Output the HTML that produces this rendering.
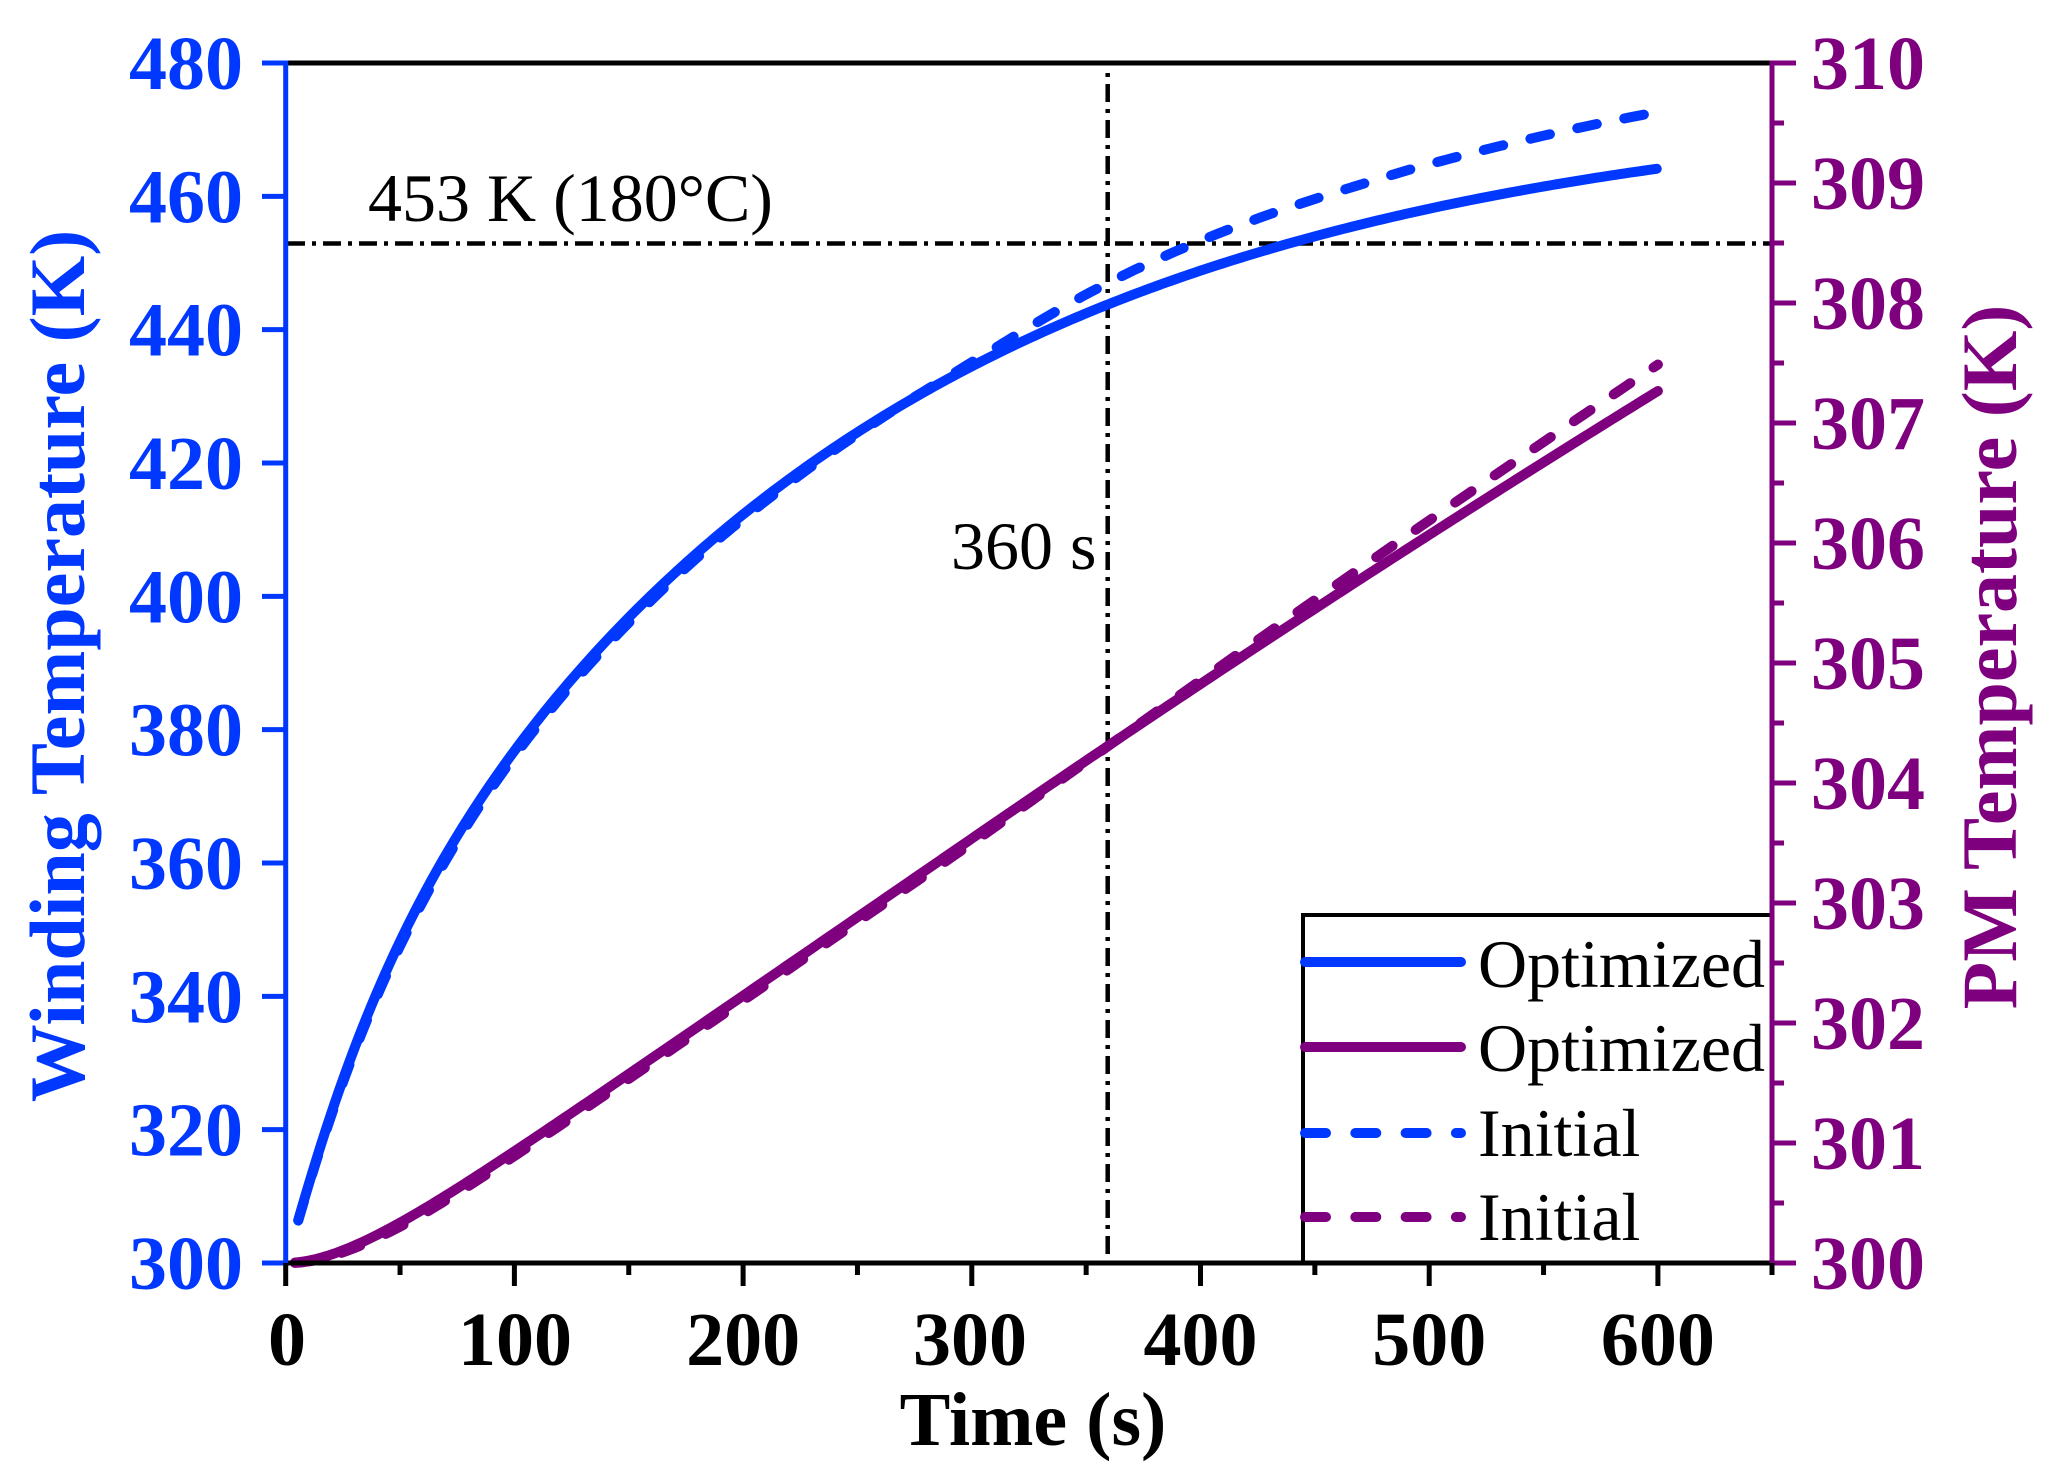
<!DOCTYPE html>
<html><head><meta charset="utf-8">
<style>html,body{margin:0;padding:0;background:#fff}svg{display:block}</style>
</head><body>
<svg width="2053" height="1476" viewBox="0 0 2053 1476" xmlns="http://www.w3.org/2000/svg" font-family="'Liberation Serif','Times New Roman',serif">
<rect width="2053" height="1476" fill="#fff"/>

<!-- reference dash-dot lines -->
<line x1="287" y1="243.5" x2="1770" y2="243.5" stroke="#000" stroke-width="4.5" stroke-dasharray="18 7 4 7"/>
<line x1="1107.7" y1="66" x2="1107.7" y2="1261" stroke="#000" stroke-width="4.5" stroke-dasharray="18 7 4 7" stroke-dashoffset="18"/>

<!-- curves -->
<path id="bs" fill="none" stroke="#0038ff" stroke-width="10" stroke-linecap="round" stroke-linejoin="round"/>
<path id="bd" fill="none" stroke="#0038ff" stroke-width="10" stroke-linecap="round" stroke-linejoin="round" stroke-dasharray="20 28"/>
<path id="ps" fill="none" stroke="#7f007f" stroke-width="10" stroke-linecap="round" stroke-linejoin="round"/>
<path id="pd" fill="none" stroke="#7f007f" stroke-width="10" stroke-linecap="round" stroke-linejoin="round" stroke-dasharray="20 28"/>

<!-- annotations -->
<text x="368" y="221" font-size="68" fill="#000">453 K (180°C)</text>
<text x="951" y="569" font-size="68" fill="#000">360 s</text>

<!-- legend -->
<rect x="1303" y="915" width="469" height="348" fill="#fff" stroke="#000" stroke-width="4"/>
<line x1="1305" y1="962" x2="1461" y2="962" stroke="#0038ff" stroke-width="10" stroke-linecap="round"/>
<line x1="1305" y1="1047" x2="1461" y2="1047" stroke="#7f007f" stroke-width="10" stroke-linecap="round"/>
<line x1="1305" y1="1133" x2="1461" y2="1133" stroke="#0038ff" stroke-width="10" stroke-linecap="round" stroke-dasharray="21 29.3"/>
<line x1="1305" y1="1217" x2="1461" y2="1217" stroke="#7f007f" stroke-width="10" stroke-linecap="round" stroke-dasharray="21 29.3"/>
<g font-size="68" fill="#000">
<text x="1478" y="987">Optimized</text>
<text x="1478" y="1071">Optimized</text>
<text x="1478" y="1156">Initial</text>
<text x="1478" y="1240">Initial</text>
</g>

<!-- axes -->
<line x1="283" y1="63" x2="1774" y2="63" stroke="#000" stroke-width="5"/>
<line x1="283" y1="1263" x2="1774" y2="1263" stroke="#000" stroke-width="5"/>
<line x1="285.7" y1="60.5" x2="285.7" y2="1265.5" stroke="#0038ff" stroke-width="5"/>
<line x1="1772" y1="60.5" x2="1772" y2="1265.5" stroke="#7f007f" stroke-width="5"/>

<!-- left ticks -->
<g stroke="#0038ff" stroke-width="5">
<line x1="262" y1="1263" x2="286" y2="1263"/>
<line x1="262" y1="1129.67" x2="286" y2="1129.67"/>
<line x1="262" y1="996.33" x2="286" y2="996.33"/>
<line x1="262" y1="863" x2="286" y2="863"/>
<line x1="262" y1="729.67" x2="286" y2="729.67"/>
<line x1="262" y1="596.33" x2="286" y2="596.33"/>
<line x1="262" y1="463" x2="286" y2="463"/>
<line x1="262" y1="329.67" x2="286" y2="329.67"/>
<line x1="262" y1="196.33" x2="286" y2="196.33"/>
<line x1="262" y1="63" x2="286" y2="63"/>
</g>
<!-- right ticks -->
<g stroke="#7f007f" stroke-width="5">
<line x1="1772" y1="1263" x2="1796" y2="1263"/>
<line x1="1772" y1="1203" x2="1784" y2="1203"/>
<line x1="1772" y1="1143" x2="1796" y2="1143"/>
<line x1="1772" y1="1083" x2="1784" y2="1083"/>
<line x1="1772" y1="1023" x2="1796" y2="1023"/>
<line x1="1772" y1="963" x2="1784" y2="963"/>
<line x1="1772" y1="903" x2="1796" y2="903"/>
<line x1="1772" y1="843" x2="1784" y2="843"/>
<line x1="1772" y1="783" x2="1796" y2="783"/>
<line x1="1772" y1="723" x2="1784" y2="723"/>
<line x1="1772" y1="663" x2="1796" y2="663"/>
<line x1="1772" y1="603" x2="1784" y2="603"/>
<line x1="1772" y1="543" x2="1796" y2="543"/>
<line x1="1772" y1="483" x2="1784" y2="483"/>
<line x1="1772" y1="423" x2="1796" y2="423"/>
<line x1="1772" y1="363" x2="1784" y2="363"/>
<line x1="1772" y1="303" x2="1796" y2="303"/>
<line x1="1772" y1="243" x2="1784" y2="243"/>
<line x1="1772" y1="183" x2="1796" y2="183"/>
<line x1="1772" y1="123" x2="1784" y2="123"/>
<line x1="1772" y1="63" x2="1796" y2="63"/>
</g>
<!-- bottom ticks -->
<g stroke="#000" stroke-width="5">
<line x1="285.7" y1="1263" x2="285.7" y2="1286"/>
<line x1="400.05" y1="1263" x2="400.05" y2="1275"/>
<line x1="514.4" y1="1263" x2="514.4" y2="1286"/>
<line x1="628.75" y1="1263" x2="628.75" y2="1275"/>
<line x1="743.1" y1="1263" x2="743.1" y2="1286"/>
<line x1="857.45" y1="1263" x2="857.45" y2="1275"/>
<line x1="971.8" y1="1263" x2="971.8" y2="1286"/>
<line x1="1086.15" y1="1263" x2="1086.15" y2="1275"/>
<line x1="1200.5" y1="1263" x2="1200.5" y2="1286"/>
<line x1="1314.85" y1="1263" x2="1314.85" y2="1275"/>
<line x1="1429.2" y1="1263" x2="1429.2" y2="1286"/>
<line x1="1543.55" y1="1263" x2="1543.55" y2="1275"/>
<line x1="1657.9" y1="1263" x2="1657.9" y2="1286"/>
<line x1="1772" y1="1263" x2="1772" y2="1275"/>
</g>

<!-- left tick labels -->
<g font-size="76" font-weight="bold" fill="#0038ff" text-anchor="end">
<text x="243" y="1289">300</text>
<text x="243" y="1155.67">320</text>
<text x="243" y="1022.33">340</text>
<text x="243" y="889">360</text>
<text x="243" y="755.67">380</text>
<text x="243" y="622.33">400</text>
<text x="243" y="489">420</text>
<text x="243" y="355.67">440</text>
<text x="243" y="222.33">460</text>
<text x="243" y="89">480</text>
</g>
<!-- right tick labels -->
<g font-size="76" font-weight="bold" fill="#7f007f" text-anchor="start">
<text x="1811" y="1289">300</text>
<text x="1811" y="1169">301</text>
<text x="1811" y="1049">302</text>
<text x="1811" y="929">303</text>
<text x="1811" y="809">304</text>
<text x="1811" y="689">305</text>
<text x="1811" y="569">306</text>
<text x="1811" y="449">307</text>
<text x="1811" y="329">308</text>
<text x="1811" y="209">309</text>
<text x="1811" y="89">310</text>
</g>
<!-- bottom tick labels -->
<g font-size="76" font-weight="bold" fill="#000" text-anchor="middle">
<text x="287" y="1365">0</text>
<text x="515" y="1365">100</text>
<text x="743.1" y="1365">200</text>
<text x="970" y="1365">300</text>
<text x="1200.5" y="1365">400</text>
<text x="1429.2" y="1365">500</text>
<text x="1657.9" y="1365">600</text>
</g>

<!-- axis titles -->
<text x="1033" y="1445" font-size="76" font-weight="bold" fill="#000" text-anchor="middle">Time (s)</text>
<text transform="translate(84,666) rotate(-90)" font-size="78" font-weight="bold" fill="#0038ff" text-anchor="middle">Winding Temperature (K)</text>
<text transform="translate(2016,657) rotate(-90)" font-size="78" font-weight="bold" fill="#7f007f" text-anchor="middle">PM Temperature (K)</text>
</svg>

<script>
(function(){
  var X=function(t){return 285.7+t*2.287;};
  var YL=function(T){return 1263-(T-300)*6.6667;};
  var YR=function(T){return 1263-(T-300)*120;};
  function bs(t){return 300+25.2*(1-Math.exp(-Math.pow(t/37,1.1)))+150*(1-Math.exp(-t/230));}
  var D=[[0,0],[30,-0.5],[60,-0.8],[150,-0.8],[220,-0.6],[250,-0.3],[270,0],[290,0.3],[311,1.0],[330,1.9],[349,2.8],[370,3.6],[390,4.2],[408,4.7],[429,5.2],[450,5.6],[470,6.0],[491,6.5],[512,6.9],[533,7.3],[554,7.7],[576,8.1],[600,8.5]];
  function interp(tab,t){
    if(t<=tab[0][0])return tab[0][1];
    for(var i=1;i<tab.length;i++){
      if(t<=tab[i][0]){var a=tab[i-1],b=tab[i];return a[1]+(b[1]-a[1])*(t-a[0])/(b[0]-a[0]);}
    }
    return tab[tab.length-1][1];
  }
  function bd(t){return bs(t)+interp(D,t);}
  function ps(t){return 300+0.0131*(t-30*(1-Math.exp(-t/30)))-(t>300?0.2*Math.pow((t-300)/300,2):0);}
  function pd(t){return ps(t)+(t<300?-0.04*Math.min(1,t/60):-0.04+0.26*Math.pow((t-300)/300,1.2));}
  function build(f,Y,t0,t1){
    var s='',first=true;
    for(var t=t0;t<=t1+1e-9;t+=2){
      s+=(first?'M':'L')+X(t).toFixed(2)+','+Y(f(t)).toFixed(2)+' ';
      first=false;
    }
    return s;
  }
  document.getElementById('bs').setAttribute('d',build(bs,YL,5.5,600));
  document.getElementById('bd').setAttribute('d',build(bd,YL,5.5,600));
  document.getElementById('ps').setAttribute('d',build(ps,YR,4,600));
  document.getElementById('pd').setAttribute('d',build(pd,YR,4,600));
})();
</script>
</body></html>
